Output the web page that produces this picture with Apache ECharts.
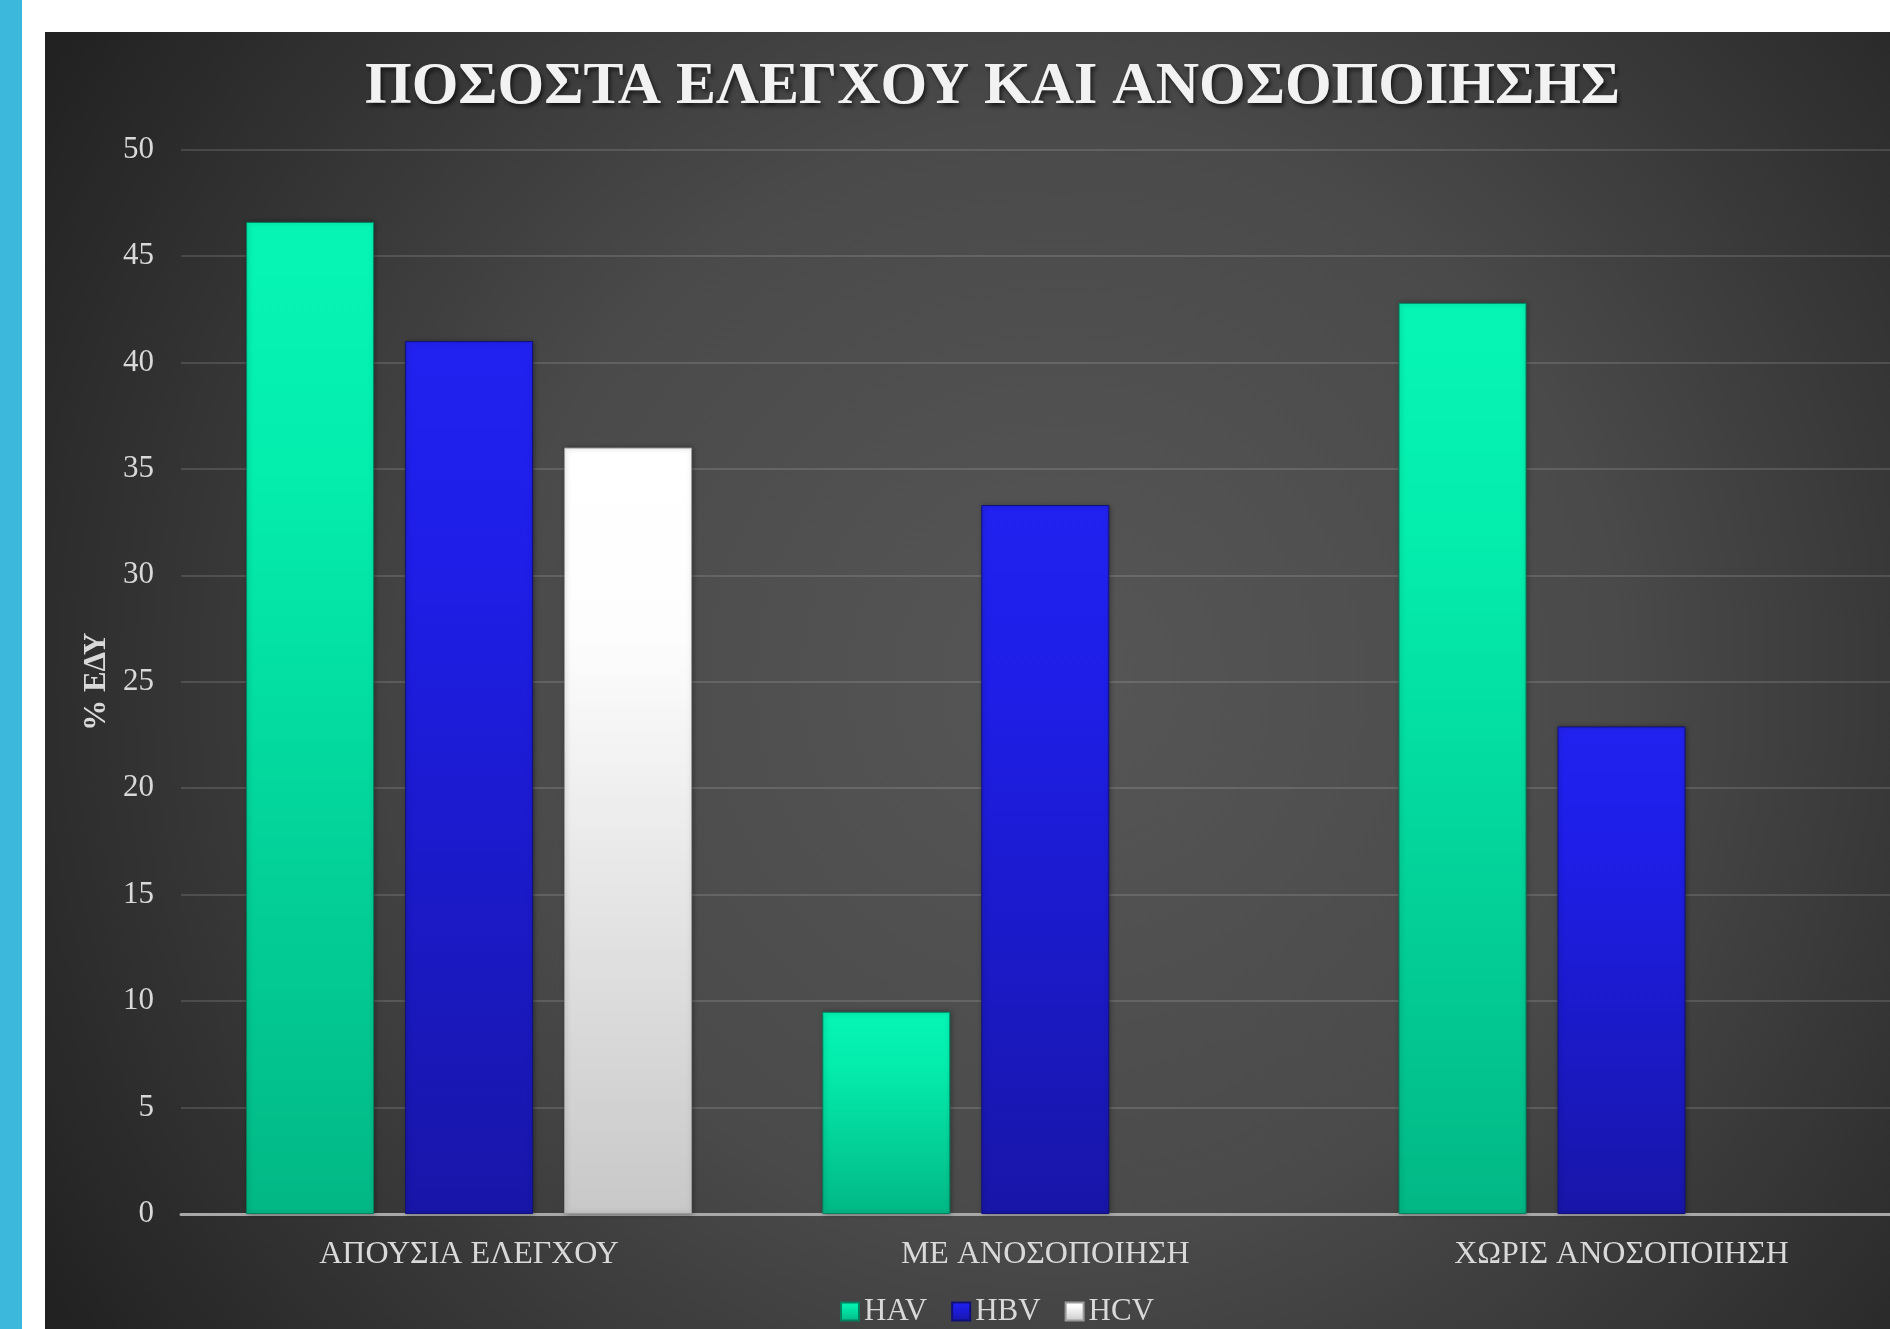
<!DOCTYPE html>
<html>
<head>
<meta charset="utf-8">
<script src="https://cdn.jsdelivr.net/npm/echarts@6/dist/echarts.min.js"></script>
<style>
html,body{margin:0;padding:0;background:#fff;width:1890px;height:1329px;overflow:hidden;position:relative;}
#strip{position:absolute;left:0;top:0;width:22px;height:1329px;background:#3cb8dc;}
#chart{position:absolute;left:45px;top:32px;width:1865px;height:1297px;}
</style>
</head>
<body>
<div id="strip"></div>
<div id="chart"></div>
<script>
const categories = ['ΑΠΟΥΣΙΑ ΕΛΕΓΧΟΥ', 'ΜΕ ΑΝΟΣΟΠΟΙΗΣΗ', 'ΧΩΡΙΣ ΑΝΟΣΟΠΟΙΗΣΗ'];
const seriesNames = ['HAV', 'HBV', 'HCV'];
const hav = [46.6, 9.5, 42.8];
const hbv = [41.0, 33.3, 22.9];
const hcv = [36.0, null, null];
const yTicks = { min: 0, max: 50, interval: 5 };
const titleText = 'ΠΟΣΟΣΤΑ ΕΛΕΓΧΟΥ ΚΑΙ ΑΝΟΣΟΠΟΙΗΣΗΣ';
const yAxisName = '% ΕΔΥ';

const FONT = '"Liberation Serif", "DejaVu Serif", serif';
const chart = echarts.init(document.getElementById('chart'));

function grad(top, mid, bottom) {
  return new echarts.graphic.LinearGradient(0, 0, 0, 1, [
    { offset: 0, color: top },
    { offset: 0.25, color: mid },
    { offset: 1, color: bottom }
  ]);
}
const styles = [
  { color: grad('#06f5b5', '#04eeae', '#02b885'), borderColor: '#02805e' },
  { color: grad('#2222f0', '#1e1ee8', '#1816a8'), borderColor: '#10107a' },
  { color: grad('#ffffff', '#fdfdfd', '#c8c8c8'), borderColor: '#9a9a9a' }
];
const values = [hav, hbv, hcv];

chart.setOption({
  backgroundColor: new echarts.graphic.RadialGradient(0.545, 0.5, 0.95, [
    { offset: 0, color: '#565656' },
    { offset: 0.45, color: '#4a4a4a' },
    { offset: 1, color: '#1f1f1f' }
  ]),
  animation: false,
  title: {
    text: titleText,
    left: 315,
    top: 20,
    textStyle: {
      fontFamily: FONT, fontSize: 60, fontWeight: 'bold', color: '#f2f2f2',
      textShadowColor: 'rgba(0,0,0,0.65)', textShadowBlur: 4,
      textShadowOffsetX: 2, textShadowOffsetY: 3
    }
  },
  legend: {
    data: seriesNames,
    left: 790,
    top: 1259,
    itemWidth: 18,
    itemHeight: 18,
    itemGap: 24,
    icon: 'rect',
    textStyle: { fontFamily: FONT, fontSize: 31, color: '#d9d9d9' }
  },
  grid: { left: 136, right: 0.4, top: 117.5, bottom: 115, containLabel: false },
  xAxis: {
    type: 'category',
    data: categories,
    axisLine: { show: true, lineStyle: { color: '#a8a8a8', width: 3 } },
    axisTick: { show: false },
    axisLabel: { fontFamily: FONT, fontSize: 32, color: '#d9d9d9', margin: 25 },
    splitLine: { show: false }
  },
  yAxis: {
    type: 'value',
    min: yTicks.min, max: yTicks.max, interval: yTicks.interval,
    name: yAxisName,
    nameLocation: 'middle',
    nameRotate: 90,
    nameGap: 68,
    nameTextStyle: { fontFamily: FONT, fontSize: 31, fontWeight: 'bold', color: '#d9d9d9' },
    axisLine: { show: false },
    axisTick: { show: false },
    axisLabel: { fontFamily: FONT, fontSize: 31, color: '#d9d9d9', margin: 27 },
    splitLine: { lineStyle: { color: 'rgba(255,255,255,0.13)', width: 2 } }
  },
  series: seriesNames.map((n, i) => ({
    name: n,
    type: 'bar',
    data: values[i],
    barWidth: 128,
    barGap: '24.2%',
    itemStyle: {
      color: styles[i].color,
      borderColor: styles[i].borderColor,
      borderWidth: 1,
      shadowColor: 'rgba(0,0,0,0.35)',
      shadowBlur: 5,
      shadowOffsetX: 1,
      shadowOffsetY: 0
    }
  }))
});
</script>
</body>
</html>
